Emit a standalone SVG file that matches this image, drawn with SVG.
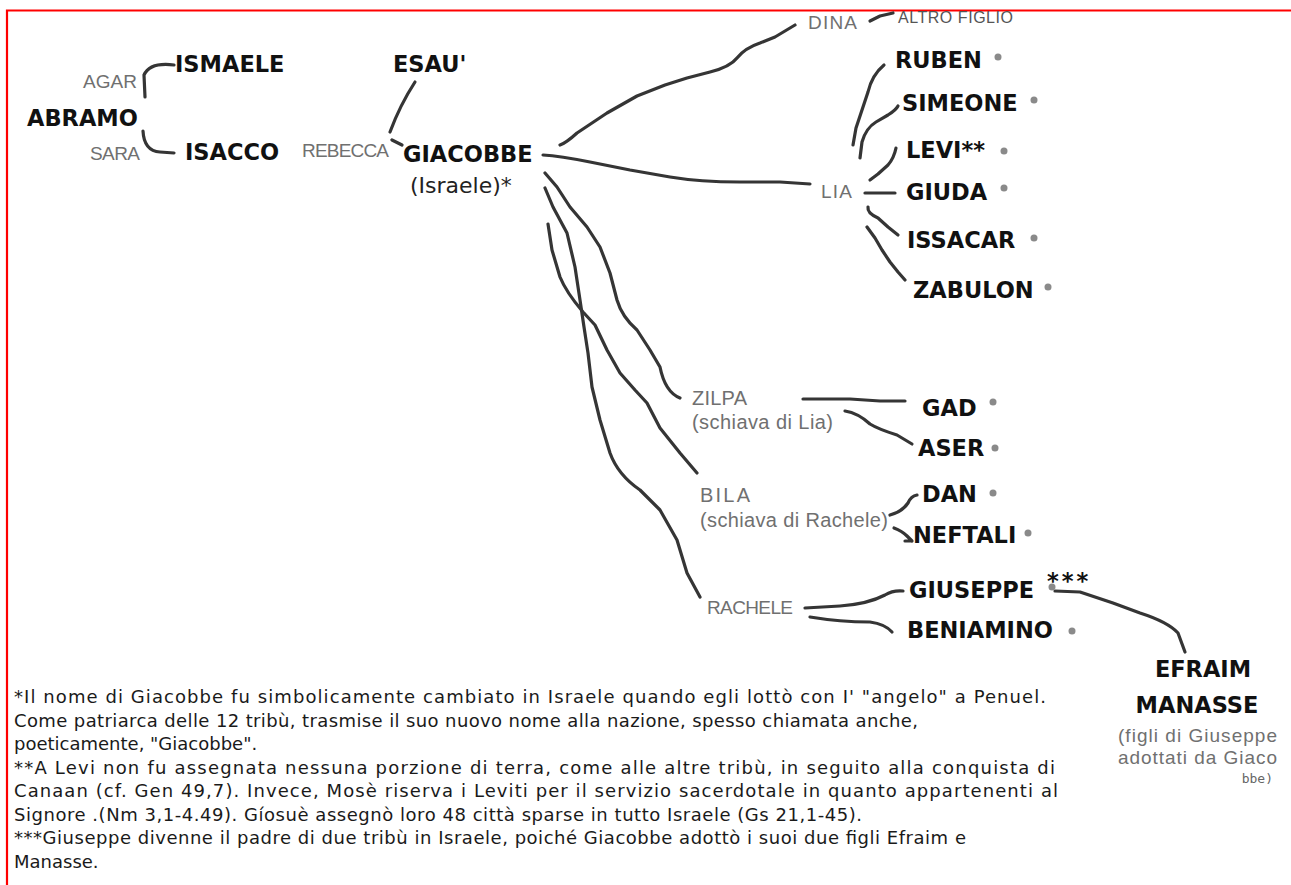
<svg xmlns="http://www.w3.org/2000/svg" width="1291" height="885" viewBox="0 0 1291 885">
<style>
.b{font-family:"DejaVu Sans","Liberation Sans",sans-serif;font-weight:bold;font-size:22.5px;fill:#111}
.r{font-family:"DejaVu Sans","Liberation Sans",sans-serif;font-size:22px;fill:#222}
.g{font-family:"Liberation Sans",Arial,sans-serif;font-size:19px;fill:#707070}
.n{font-family:"DejaVu Sans","Liberation Sans",sans-serif;font-size:18px;fill:#1a1a1a}
.c{fill:none;stroke:#353535;stroke-width:3.2;stroke-linecap:round;stroke-linejoin:round}
.d{fill:#8a8a8a}
</style>
<rect x="0" y="0" width="1291" height="885" fill="#fff"/>
<path d="M7,886 L7,10.5 L1292,10.5" fill="none" stroke="#ff0000" stroke-width="2.2"/>
<g id="connectors" class="c">
<path d="M174,65 Q150,62 144,75 L145,97"/>
<path d="M143,131 Q144,151 160,152 L174,153"/>
<path d="M415,82 Q400,105 390,132"/>
<path d="M392,140 L402,145"/>
<path d="M560,145 Q566,143 577,133 L607,113 L637,96 L665,85 L687,78 L710,72 Q730,67 737,58 Q745,48 760,43 L775,37 L795,25"/>
<path d="M543,155 Q560,156 590,162 L630,170 L670,177 Q700,182 740,182 L780,182 L810,184"/>
<path d="M870,21 L880,16 L893,13"/>
<path d="M853,145 L856,128 L862,110 L868,92 Q872,75 884,65"/>
<path d="M860,158 L862,142 Q866,128 876,122 L888,115 Q896,110 898,106"/>
<path d="M870,180 L878,174 L888,165 Q894,158 896,148"/>
<path d="M865,193 L880,193 L895,193"/>
<path d="M868,207 Q867,213 878,218 L888,227 L898,235"/>
<path d="M867,227 L875,238 L882,250 L890,262 L898,272 L905,280"/>
<path d="M545,173 L557,187 L570,207 L587,227 L600,247 L610,273 L617,300 Q622,317 637,330 L650,350 L660,367 Q665,392 680,398"/>
<path d="M545,188 L553,207 L567,233 L575,267 L580,300 L584,327 L588,353 L592,387 L600,420 L610,453 Q618,475 640,490 L660,510 L677,540 L687,573 L700,597"/>
<path d="M548,224 L552,250 L560,277 Q566,292 583,312 L595,325 L607,350 L620,373 L635,390 L647,403 L660,428 L680,453 L697,473"/>
<path d="M803,399 L850,399 L880,401 L905,401"/>
<path d="M845,411 Q858,413 870,424 Q878,429 897,435 L912,444"/>
<path d="M890,515 Q902,512 908,503 Q911,496 917,495"/>
<path d="M894,528 Q902,531 907,536 L912,541 M905,541 L912,541"/>
<path d="M805,608 L840,606 Q868,604 885,595 Q893,590 903,591"/>
<path d="M810,617 Q840,622 870,622 Q885,624 892,632"/>
<path d="M1055,591 L1080,592 L1113,603 L1140,613 Q1168,622 1178,633 L1185,652"/>
</g>
<g id="abramo"><text class="b" x="27" y="126">ABRAMO</text></g>
<g id="agar"><text class="g" x="83" y="88" textLength="54">AGAR</text></g>
<g id="sara"><text class="g" x="90" y="160" textLength="50">SARA</text></g>
<g id="ismaele"><text class="b" x="175" y="72">ISMAELE</text></g>
<g id="isacco"><text class="b" x="185" y="160">ISACCO</text></g>
<g id="esau"><text class="b" x="393" y="72">ESAU'</text></g>
<g id="rebecca"><text class="g" x="302" y="157" textLength="87">REBECCA</text></g>
<g id="giacobbe"><text class="b" x="403" y="162">GIACOBBE</text><text class="r" x="410" y="193">(Israele)*</text></g>
<g id="dina"><text class="g" x="808" y="29" textLength="49">DINA</text></g>
<g id="altro-figlio"><text class="g" x="898" y="23" style="font-size:16px;fill:#555" textLength="115">ALTRO FIGLIO</text></g>
<g id="lia"><text class="g" x="821" y="198" textLength="31">LIA</text></g>
<g id="ruben"><text class="b" x="895" y="68">RUBEN</text><circle class="d" cx="998" cy="57" r="3.5"/></g>
<g id="simeone"><text class="b" x="902" y="111">SIMEONE</text><circle class="d" cx="1034" cy="100" r="3.5"/></g>
<g id="levi"><text class="b" x="906" y="158">LEVI**</text><circle class="d" cx="1004" cy="151" r="3.5"/></g>
<g id="giuda"><text class="b" x="906" y="200">GIUDA</text><circle class="d" cx="1004" cy="188" r="3.5"/></g>
<g id="issacar"><text class="b" x="907" y="248">ISSACAR</text><circle class="d" cx="1034" cy="238" r="3.5"/></g>
<g id="zabulon"><text class="b" x="913" y="298">ZABULON</text><circle class="d" cx="1048" cy="287" r="3.5"/></g>
<g id="zilpa"><text class="g" x="692" y="405" textLength="55" style="font-size:20px">ZILPA</text><text class="g" x="692" y="429" textLength="141" style="font-size:20px">(schiava di Lia)</text></g>
<g id="gad"><text class="b" x="922" y="416">GAD</text><circle class="d" cx="993" cy="402" r="3.5"/></g>
<g id="aser"><text class="b" x="918" y="456">ASER</text><circle class="d" cx="995" cy="448" r="3.5"/></g>
<g id="bila"><text class="g" x="700" y="502" textLength="50" style="font-size:20px">BILA</text><text class="g" x="700" y="527" textLength="188" style="font-size:20px">(schiava di Rachele)</text></g>
<g id="dan"><text class="b" x="922" y="502">DAN</text><circle class="d" cx="993" cy="493" r="3.5"/></g>
<g id="neftali"><text class="b" x="913" y="543">NEFTALI</text><circle class="d" cx="1028" cy="533" r="3.5"/></g>
<g id="rachele"><text class="g" x="707" y="614" textLength="86">RACHELE</text></g>
<g id="giuseppe"><text class="b" x="909" y="598">GIUSEPPE</text><text class="b" x="1047" y="589" style="letter-spacing:3px">***</text><circle class="d" cx="1052" cy="587" r="3.5"/></g>
<g id="beniamino"><text class="b" x="907" y="638">BENIAMINO</text><circle class="d" cx="1072" cy="631" r="3.5"/></g>
<g id="efraim-manasse">
<text class="b" x="1203" y="677" text-anchor="middle">EFRAIM</text>
<text class="b" x="1197" y="713" text-anchor="middle">MANASSE</text>
<text class="g" x="1118" y="742" textLength="159">(figli di Giuseppe</text>
<text class="g" x="1118" y="764" textLength="159">adottati da Giaco</text>
<text x="1273" y="783" text-anchor="end" style="font-family:'DejaVu Sans Mono','Liberation Mono',monospace;font-size:13px;fill:#666">bbe)</text>
</g>
<g id="footnotes">
<text class="n" x="14" y="703" textLength="1032">*Il nome di Giacobbe fu simbolicamente cambiato in Israele quando egli lottò con I' "angelo" a Penuel.</text>
<text class="n" x="14" y="726.5" textLength="904">Come patriarca delle 12 tribù, trasmise il suo nuovo nome alla nazione, spesso chiamata anche,</text>
<text class="n" x="14" y="750">poeticamente, "Giacobbe".</text>
<text class="n" x="14" y="773.5" textLength="1041">**A Levi non fu assegnata nessuna porzione di terra, come alle altre tribù, in seguito alla conquista di</text>
<text class="n" x="14" y="797" textLength="1044">Canaan (cf. Gen 49,7). Invece, Mosè riserva i Leviti per il servizio sacerdotale in quanto appartenenti al</text>
<text class="n" x="14" y="820.5" textLength="848">Signore .(Nm 3,1-4.49). Gíosuè assegnò loro 48 città sparse in tutto Israele (Gs 21,1-45).</text>
<text class="n" x="14" y="844" textLength="952">***Giuseppe divenne il padre di due tribù in Israele, poiché Giacobbe adottò i suoi due figli Efraim e</text>
<text class="n" x="14" y="867.5">Manasse.</text>
</g>
</svg>
